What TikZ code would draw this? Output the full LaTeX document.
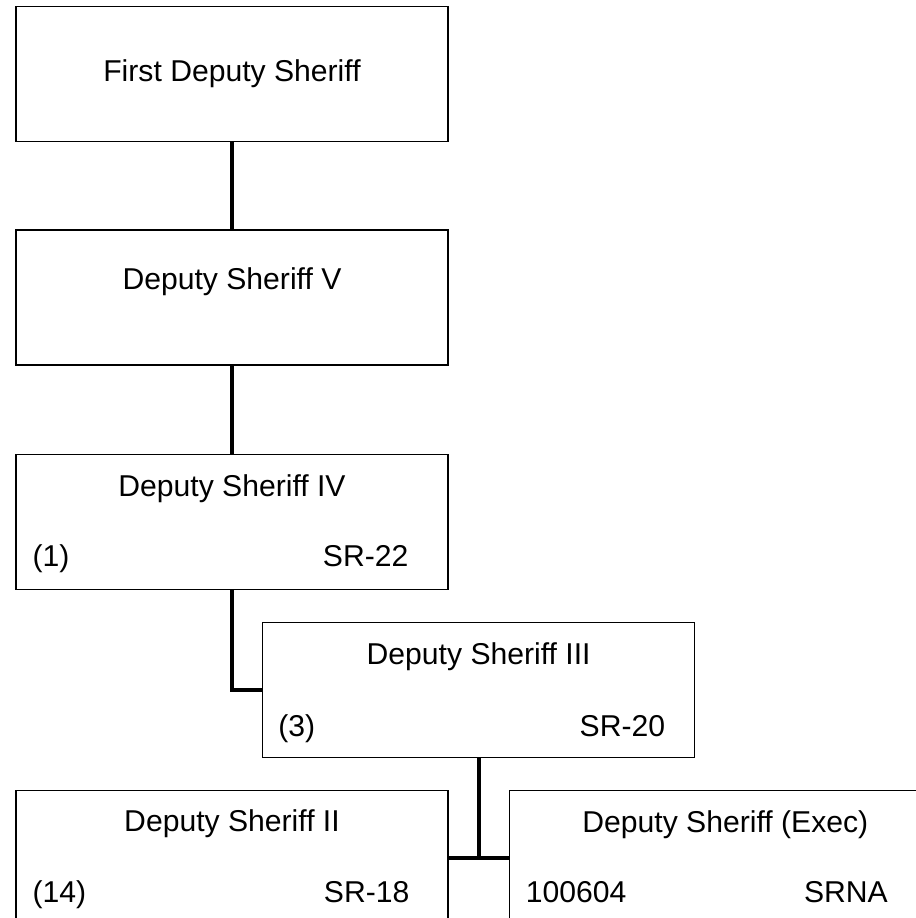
\documentclass[tikz,border=0pt]{standalone}
\usepackage{fontspec}
\setmainfont{Liberation Sans}
\usetikzlibrary{positioning}
\tikzstyle{block} = [draw, fill=white, rectangle, line width=1pt,
    minimum height=101.25pt, minimum width=324pt, inner sep=0pt]
\tikzstyle{title} = [anchor=base, inner sep=0pt]
\tikzstyle{tag} = [inner sep=0pt]
\tikzstyle{link} = [line width=3.2pt]

\begin{document}
\begin{tikzpicture}[font=\fontsize{22.6}{27}\selectfont]
    \path [use as bounding box, clip] (0,0) rectangle (687pt,-688.5pt);
    % We start by placing the blocks
    \node [block] (first) at (174pt,-55.5pt) {};
    \node [block, below=65.25pt of first] (ds5) {};
    \node [block, below=66pt of ds5] (ds4) {};
    \node [block, below right=24pt and 22.5pt of ds4.south] (ds3) {};
    \node [block, below=150pt of ds4] (ds2) {};
    \node [block, right=45pt of ds2] (dsx) {};

    % Titles and the small tags in the lower corners
    \node [title] (firstt) at ([yshift=-57pt]first.north) {First Deputy Sheriff};
    \node [title] (ds5t) at ([yshift=-45pt]ds5.north) {Deputy Sheriff V};
    \node [title] (ds4t) at ([yshift=-32.25pt]ds4.north) {Deputy Sheriff IV};
    \node [tag, anchor=base west] (ds4n) at ([shift={(12.75pt,17.25pt)}]ds4.south west) {(1)};
    \node [tag, anchor=base east] (ds4g) at ([shift={(-30pt,17.25pt)}]ds4.south east) {SR-22};
    \node [title] (ds3t) at ([yshift=-32.25pt]ds3.north) {Deputy Sheriff III};
    \node [tag, anchor=base west] (ds3n) at ([shift={(12pt,16.5pt)}]ds3.south west) {(3)};
    \node [tag, anchor=base east] (ds3g) at ([shift={(-22.5pt,16.5pt)}]ds3.south east) {SR-20};
    \node [title] (ds2t) at ([yshift=-31.5pt]ds2.north) {Deputy Sheriff II};
    \node [tag, anchor=base west] (ds2n) at ([shift={(12.75pt,18pt)}]ds2.south west) {(14)};
    \node [tag, anchor=base east] (ds2g) at ([shift={(-29.25pt,18pt)}]ds2.south east) {SR-18};
    \node [title] (dsxt) at ([yshift=-32.25pt]dsx.north) {Deputy Sheriff (Exec)};
    \node [tag, anchor=base west] (dsxn) at ([shift={(12.75pt,18pt)}]dsx.south west) {100604};
    \node [tag, anchor=base east] (dsxg) at ([shift={(-40.5pt,18pt)}]dsx.south east) {SRNA};

    % Once the blocks are placed, connecting them is easy.
    \draw [link] (first) -- (ds5);
    \draw [link] (ds5) -- (ds4);
    \draw [link] (ds4.south) |- (ds3.west);
    \draw [link] (ds2.east) -- (dsx.west);
    \draw [link] (ds3.south) -- (ds3.south |- ds2.east);
\end{tikzpicture}
\end{document}
